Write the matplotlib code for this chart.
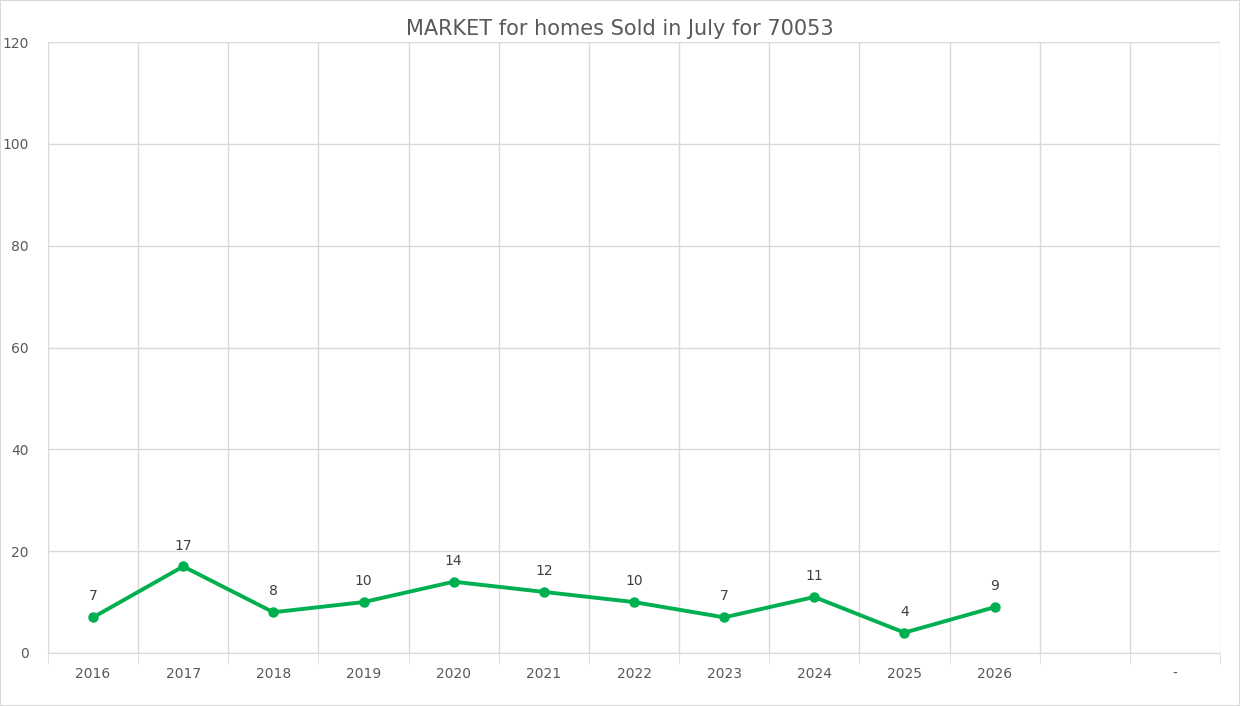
import matplotlib.pyplot as plt
import numpy as np

# data
categories = ['2016', '2017', '2018', '2019', '2020', '2021', '2022', '2023',
              '2024', '2025', '2026', '', '-']
sold = [7, 17, 8, 10, 14, 12, 10, 7, 11, 4, 9]

line_color = '#00B050'
text_color = '#595959'
grid_color = '#D9D9D9'

fig = plt.figure(figsize=(12.4, 7.06), dpi=100)
ax = fig.add_axes([48 / 1240, 1 - 653 / 706, (1220 - 48) / 1240, (653 - 42) / 706])

n = len(categories)
x = np.arange(len(sold))
ax.plot(x, sold, color=line_color, linewidth=2.8, marker='o', markersize=6.5,
        solid_joinstyle='round', zorder=3)
for xi, v in zip(x, sold):
    ax.annotate(str(v), (xi, v), xytext=(0, 10), textcoords='offset points',
                ha='center', va='bottom', fontsize=10, color='#404040')

ax.set_xlim(-0.5, n - 0.5)
ax.set_ylim(0, 120)
ax.set_yticks(range(0, 121, 20))
ax.set_xticks(range(n))
ax.set_xticklabels(categories)
ax.set_xticks(np.arange(-0.5, n, 1), minor=True)

ax.grid(axis='y', which='major', color=grid_color, linewidth=1)
ax.grid(axis='x', which='minor', color=grid_color, linewidth=1)
ax.grid(axis='x', which='major', visible=False)
ax.set_axisbelow(True)
for s in ['top', 'right', 'left']:
    ax.spines[s].set_visible(False)
ax.spines['bottom'].set_color(grid_color)

ax.tick_params(axis='both', which='both', length=0, labelsize=10, colors=text_color)
ax.tick_params(axis='x', which='minor', length=8, color=grid_color)
ax.tick_params(axis='x', pad=10)
ax.tick_params(axis='y', pad=14)

fig.text(0.5, 1 - 29 / 706, 'MARKET for homes Sold in July for 70053', ha='center',
         va='center', fontsize=15, color=text_color)

fig.patches.append(plt.Rectangle((0, 0), 1, 1, transform=fig.transFigure,
                                 fill=False, edgecolor=grid_color, linewidth=1.5))

fig.savefig('out.png', dpi=100)
